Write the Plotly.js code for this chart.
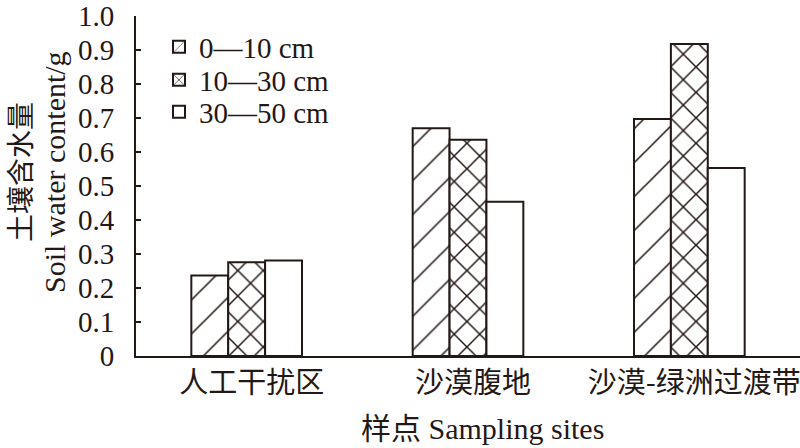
<!DOCTYPE html>
<html>
<head>
<meta charset="utf-8">
<script src="https://cdn.plot.ly/plotly-3.0.1.min.js"></script>
<style>html,body{margin:0;padding:0;background:#fff;}#chart{width:800px;height:448px;}</style>
</head>
<body>
<div id="chart"></div>
<script>
var categories = ["人工干扰区", "沙漠腹地", "沙漠-绿洲过渡带"];
var seriesNames = ["0—10 cm", "10—30 cm", "30—50 cm"];
var depth0to10 = [0.237, 0.670, 0.697];
var depth10to30 = [0.276, 0.636, 0.918];
var depth30to50 = [0.281, 0.454, 0.553];
var yTickVals = [0, 0.1, 0.2, 0.3, 0.4, 0.5, 0.6, 0.7, 0.8, 0.9, 1.0];
var yTickLabels = ["0", "0.1", "0.2", "0.3", "0.4", "0.5", "0.6", "0.7", "0.8", "0.9", "1.0"];
var yTitleZh = "土壤含水量";
var yTitleEn = "Soil water content/g";
var xTitle = "样点 Sampling sites";

var ink = "#231815";
var FONT = "'Liberation Serif', 'Times New Roman', 'Noto Sans CJK SC', serif";
var CJK = "'Noto Sans CJK SC', sans-serif";

var patterns = [
  {shape: "/", size: 24, solidity: 0.065, fgcolor: ink, fgopacity: 1, bgcolor: "#fff", fillmode: "replace"},
  {shape: "x", size: 18, solidity: 0.16, fgcolor: ink, fgopacity: 1, bgcolor: "#fff", fillmode: "replace"},
  {shape: "", fgcolor: ink, bgcolor: "#fff"}
];
var seriesValues = [depth0to10, depth10to30, depth30to50];
var legendIds = ["legend", "legend2", "legend3"];

var traces = seriesValues.map(function (vals, i) {
  return {
    type: "bar",
    name: seriesNames[i],
    legend: legendIds[i],
    x: categories,
    y: vals,
    marker: {color: "#fff", line: {color: ink, width: 2}, pattern: patterns[i]},
    hoverinfo: "x+y+name"
  };
});

// pixel helpers for plot area: left 136, right 800, top 16, bottom 356
function px(x) { return (x - 136) / 664; }
function py(y) { return (356 - y) / 340; }

function legendAt(yPix) {
  return {
    x: px(159), y: py(yPix), xanchor: "left", yanchor: "middle",
    bgcolor: "rgba(0,0,0,0)", borderwidth: 0,
    font: {family: FONT, size: 29, color: ink},
    itemwidth: 30
  };
}

var layout = {
  width: 800, height: 448,
  margin: {l: 136, r: 0, t: 16, b: 92, pad: 0},
  paper_bgcolor: "#fff", plot_bgcolor: "#fff",
  font: {family: FONT, color: ink, size: 29},
  barmode: "group", bargap: 0.5, bargroupgap: 0,
  showlegend: true,
  legend: legendAt(47),
  legend2: legendAt(80),
  legend3: legendAt(112),
  xaxis: {
    type: "category", range: [-0.5, 2.5], fixedrange: true,
    showline: true, linecolor: ink, linewidth: 2,
    ticks: "", showgrid: false, zeroline: false,
    tickfont: {family: CJK, size: 29, color: ink},
    ticklabelshift: 5
  },
  yaxis: {
    range: [0, 1.0], fixedrange: true,
    tickvals: yTickVals, ticktext: yTickLabels,
    showline: true, linecolor: ink, linewidth: 2,
    ticks: "inside", ticklen: 5, tickwidth: 2, tickcolor: ink,
    ticklabelstandoff: 14,
    showgrid: false, zeroline: false,
    tickfont: {family: FONT, size: 29, color: ink}
  },
  annotations: [
    {text: yTitleZh, xref: "paper", yref: "paper", x: px(19), y: py(172),
     xanchor: "center", yanchor: "middle", textangle: -90, showarrow: false,
     font: {family: CJK, size: 28, color: ink}},
    {text: yTitleEn, xref: "paper", yref: "paper", x: px(54), y: py(172),
     xanchor: "center", yanchor: "middle", textangle: -90, showarrow: false,
     font: {family: FONT, size: 30, color: ink}},
    {text: xTitle, xref: "paper", yref: "paper", x: px(482), y: py(429),
     xanchor: "center", yanchor: "middle", showarrow: false,
     font: {family: FONT, size: 30, color: ink}}
  ]
};

Plotly.newPlot("chart", traces, layout, {displayModeBar: false, staticPlot: true});
</script>
</body>
</html>
